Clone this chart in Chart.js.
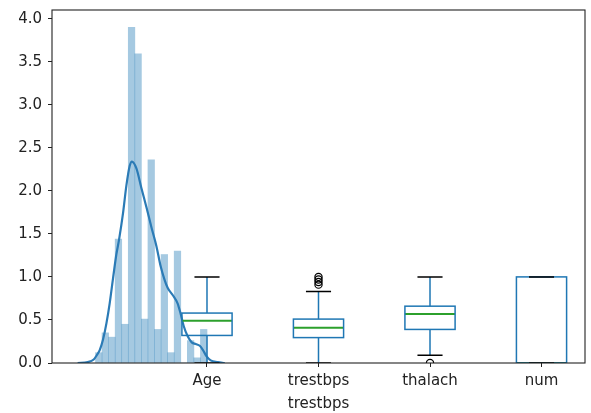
<!DOCTYPE html>
<html>
<head>
<meta charset="utf-8">
<script src="https://cdn.jsdelivr.net/npm/chart.js@4.4.1/dist/chart.umd.min.js"></script>
<style>
  html, body { margin: 0; padding: 0; background: #fff; }
  #wrap { width: 591px; height: 413px; }
</style>
</head>
<body>
<div id="wrap"><canvas id="c"></canvas></div>
<script>
  // histogram of the scaled trestbps column (density, 17 bins over [0, 1])
  var histRange = [0, 1];
  var histHeights = [0.12, 0.35, 0.30, 1.44, 0.45, 3.90, 3.59, 0.51, 2.36, 0.39, 1.26, 0.12, 1.30, 0.0, 0.26, 0.06, 0.39];

  // kde curve
  var kdeX = [-0.160, -0.070, -0.016, 0.011, 0.038, 0.067, 0.098, 0.127, 0.157, 0.187, 0.211, 0.247, 0.277, 0.307, 0.327, 0.367, 0.412, 0.457, 0.501, 0.546, 0.585, 0.621, 0.648, 0.692, 0.737, 0.764, 0.791, 0.827, 0.863, 0.899, 0.935, 0.964, 0.995, 1.033, 1.096, 1.159];
  var kdeY = [0.0, 0.01, 0.04, 0.09, 0.15, 0.27, 0.46, 0.69, 0.98, 1.26, 1.43, 1.74, 2.06, 2.29, 2.34, 2.26, 2.03, 1.81, 1.58, 1.36, 1.12, 0.96, 0.87, 0.79, 0.69, 0.57, 0.43, 0.31, 0.24, 0.22, 0.20, 0.15, 0.08, 0.03, 0.01, 0.0];

  // boxplots
  var boxLabels = ['Age', 'trestbps', 'thalach', 'num'];
  var boxPositions = [1, 2, 3, 4];
  var whiskLow = [0.0, 0.0, 0.09, 0.0];
  var q1 = [0.32, 0.295, 0.39, 0.0];
  var medians = [0.49, 0.41, 0.57, 0.0];
  var q3 = [0.58, 0.51, 0.66, 1.0];
  var whiskHigh = [1.0, 0.83, 1.0, 1.0];
  var fliers = [[], [1.0, 0.97, 0.94, 0.91], [0.0], []];

  var yTicks = [0, 0.5, 1.0, 1.5, 2.0, 2.5, 3.0, 3.5, 4.0];
  var xTitle = 'trestbps';

  var BLUE = '#1f77b4';
  var boxWidth = 0.45;

  var binW = (histRange[1] - histRange[0]) / histHeights.length;
  var histData = histHeights.map(function(h, i) {
    return { x: histRange[0] + (i + 0.5) * binW, y: h };
  });
  var kdeData = kdeX.map(function(v, i) { return { x: v, y: kdeY[i] }; });
  var flierData = [];
  fliers.forEach(function(list, i) {
    list.forEach(function(v) { flierData.push({ x: boxPositions[i], y: v }); });
  });

  // boxes, whiskers, caps and medians drawn through the chart scales
  var boxPlugin = {
    id: 'boxes',
    afterDatasetsDraw: function(chart) {
      var ctx = chart.ctx, a = chart.chartArea;
      var x = chart.scales.x, y = chart.scales.y;
      ctx.save();
      ctx.beginPath();
      ctx.rect(a.left, a.top, a.right - a.left, a.bottom - a.top);
      ctx.clip();
      boxPositions.forEach(function(pos, i) {
        var xl = x.getPixelForValue(pos - boxWidth / 2);
        var xr = x.getPixelForValue(pos + boxWidth / 2);
        var xc = x.getPixelForValue(pos);
        var cl = x.getPixelForValue(pos - boxWidth / 4);
        var cr = x.getPixelForValue(pos + boxWidth / 4);
        var yq1 = y.getPixelForValue(q1[i]);
        var yq3 = y.getPixelForValue(q3[i]);
        var ylo = y.getPixelForValue(whiskLow[i]);
        var yhi = y.getPixelForValue(whiskHigh[i]);
        var ymed = y.getPixelForValue(medians[i]);

        // median (under the box outline)
        ctx.lineWidth = 2;
        ctx.strokeStyle = '#2ca02c';
        ctx.beginPath();
        ctx.moveTo(xl, ymed); ctx.lineTo(xr, ymed);
        ctx.stroke();
        // box
        ctx.lineWidth = 1.5;
        ctx.strokeStyle = BLUE;
        ctx.strokeRect(xl, yq3, xr - xl, yq1 - yq3);
        // whiskers
        ctx.beginPath();
        ctx.moveTo(xc, yq1); ctx.lineTo(xc, ylo);
        ctx.moveTo(xc, yq3); ctx.lineTo(xc, yhi);
        ctx.stroke();
        // caps
        ctx.strokeStyle = '#000';
        ctx.beginPath();
        ctx.moveTo(cl, ylo); ctx.lineTo(cr, ylo);
        ctx.moveTo(cl, yhi); ctx.lineTo(cr, yhi);
        ctx.stroke();
      });
      ctx.restore();
    },
    afterDraw: function(chart) {
      var ctx = chart.ctx, a = chart.chartArea;
      ctx.save();
      ctx.strokeStyle = '#222';
      ctx.lineWidth = 1.1;
      ctx.strokeRect(a.left, a.top, a.right - a.left, a.bottom - a.top);
      ctx.restore();
    }
  };

  Chart.defaults.font.family = '"DejaVu Sans", sans-serif';
  Chart.defaults.font.size = 15;
  Chart.defaults.color = '#222';

  new Chart(document.getElementById('c'), {
    type: 'bar',
    data: {
      datasets: [{
        type: 'scatter',
        data: flierData,
        pointStyle: 'circle',
        pointRadius: 3.6,
        borderColor: '#000',
        backgroundColor: 'rgba(0,0,0,0)',
        borderWidth: 1.2,
        clip: 0,
        order: 0
      }, {
        type: 'line',
        data: kdeData,
        borderColor: '#2b7bb6',
        borderWidth: 2.2,
        pointRadius: 0,
        cubicInterpolationMode: 'monotone',
        fill: false,
        order: 1
      }, {
        type: 'bar',
        data: histData,
        backgroundColor: 'rgba(31,119,180,0.4)',
        borderWidth: 0,
        barPercentage: 1,
        categoryPercentage: 1,
        order: 2
      }]
    },
    options: {
      responsive: true,
      maintainAspectRatio: false,
      animation: false,
      layout: { padding: { left: 0, top: 10, right: 6, bottom: 0 } },
      plugins: {
        legend: { display: false },
        tooltip: { enabled: false }
      },
      scales: {
        x: {
          type: 'linear',
          min: -0.39,
          max: 4.39,
          offset: false,
          afterBuildTicks: function(scale) {
            scale.ticks = boxPositions.map(function(v) { return { value: v }; });
          },
          afterFit: function(scale) {
            scale.height = 50;
            scale.paddingLeft = 0;
            scale.paddingRight = 0;
          },
          grid: { display: true, offset: false, drawOnChartArea: false, drawTicks: true, tickLength: 4, color: '#222' },
          border: { display: false },
          ticks: {
            autoSkip: false,
            maxRotation: 0,
            padding: 5,
            callback: function(v) { return boxLabels[boxPositions.indexOf(v)]; }
          },
          title: { display: true, text: xTitle, padding: { top: 0, bottom: 0 } }
        },
        y: {
          min: 0,
          max: 4.1,
          afterBuildTicks: function(scale) {
            scale.ticks = yTicks.map(function(v) { return { value: v }; });
          },
          afterFit: function(scale) {
            scale.width = 52;
            scale.paddingTop = 0;
            scale.paddingBottom = 0;
          },
          grid: { display: true, drawOnChartArea: false, drawTicks: true, tickLength: 4, color: '#222' },
          border: { display: false },
          ticks: {
            padding: 6,
            callback: function(v) { return v.toFixed(1); }
          }
        }
      }
    },
    plugins: [boxPlugin]
  });
</script>
</body>
</html>
